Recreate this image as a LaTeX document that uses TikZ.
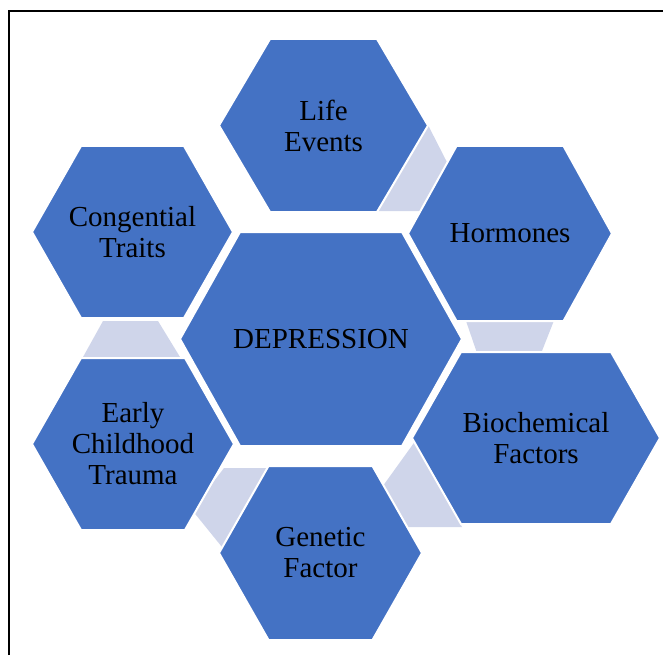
\documentclass[tikz,border=0pt]{standalone}
\usepackage{fontspec}
\setmainfont{Liberation Serif}
\usepackage{xcolor}
\usepackage{tikz}
\usetikzlibrary{positioning}
\definecolor{HexBlue}{RGB}{68, 114, 196}
\definecolor{LinkGrey}{RGB}{207, 213, 234}
\tikzset{
	hexcell/.style={fill=HexBlue, draw=white, line width=2pt},
	hexlink/.style={fill=LinkGrey},
	hexlabel/.style={align=center, inner sep=0pt, text=black, font=\fontsize{29}{31}\selectfont},
}
% #1 name, #2 #3 centre, #4 half width, #5 half height, #6 half top edge, #7 text
\newcommand*{\hexblock}[7]{%
	\draw[hexcell] (#2-#4,#3) -- (#2-#6,#3-#5) -- (#2+#6,#3-#5) -- (#2+#4,#3) -- (#2+#6,#3+#5) -- (#2-#6,#3+#5) -- cycle;
	\node[hexlabel] (#1) at (#2,#3) {#7};
}

\begin{document}
\begin{tikzpicture}[x=1pt, y=-1pt]
\useasboundingbox (0,0) rectangle (663,655);
\draw[line width=2pt] (9,655) -- (9,11) -- (663,11);

% light links behind the cells
\fill[hexlink] (428,125) -- (452,172) -- (425,211) -- (375,211) -- cycle;
\fill[hexlink] (465,318) -- (555,318) -- (540,356) -- (478,356) -- cycle;
\fill[hexlink] (416,440) -- (380,490) -- (405,527) -- (462,527) -- cycle;
\fill[hexlink] (224,468) -- (275,468) -- (226,552) -- (192,510) -- cycle;
\fill[hexlink] (103,321) -- (158,321) -- (180,357) -- (83,357) -- cycle;

\hexblock{lifeev}{323.5}{125.5}{104.5}{86.5}{53.5}{Life\\Events}
\hexblock{hormon}{510}{233.5}{102}{87.5}{53.5}{Hormones}
\hexblock{congen}{132.5}{232}{100.5}{86}{51.5}{Congential\\Traits}
\hexblock{depres}{321}{339}{141}{107}{81}{DEPRESSION}
\hexblock{earlyc}{133}{444}{101}{86}{52}{Early\\Childhood\\Trauma}
\hexblock{biochm}{536}{438}{124}{86}{75}{Biochemical\\Factors}
\hexblock{genetc}{320.5}{553}{101.5}{87}{52}{Genetic\\Factor}

\end{tikzpicture}
\end{document}
